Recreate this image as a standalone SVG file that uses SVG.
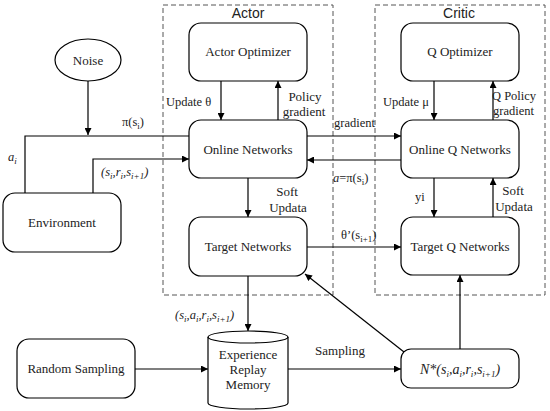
<svg xmlns="http://www.w3.org/2000/svg" width="550" height="411" viewBox="0 0 550 411">
<defs>
<marker id="ah" viewBox="0 0 10 10" refX="10" refY="5" markerWidth="9" markerHeight="7" markerUnits="userSpaceOnUse" orient="auto">
<path d="M0,0 L10,5 L0,10 z" fill="#000"/>
</marker>
<style>
.box{fill:#fff;stroke:#000;stroke-width:1.2}
.dash{fill:none;stroke:#555;stroke-width:1;stroke-dasharray:5,3}
.t{font-family:'Liberation Serif','DejaVu Serif',serif;font-size:13px;fill:#222;text-anchor:middle}
.l{font-family:'Liberation Serif','DejaVu Serif',serif;font-size:12.5px;fill:#222}
.i{font-style:italic}
.s{font-family:'Liberation Sans',Arial,sans-serif;font-size:14px;fill:#222;text-anchor:middle}
.c{fill:none;stroke:#000;stroke-width:1.2}
.sub{font-size:9px}
</style>
</defs>
<rect width="550" height="411" fill="#fff"/>
<g id="actor-group">
<rect class="dash" x="163" y="5" width="170" height="290"/>
<text class="s" x="248" y="18">Actor</text>
</g>
<g id="critic-group">
<rect class="dash" x="375" y="5" width="170" height="290"/>
<text class="s" x="459" y="18">Critic</text>
</g>
<g id="connectors">
<path class="c" d="M88,81 V135" marker-end="url(#ah)"/>
<path class="c" d="M189,136 H25 V193"/>
<path class="c" d="M93,193 V159 H189" marker-end="url(#ah)"/>
<path class="c" d="M221,81 V120" marker-end="url(#ah)"/>
<path class="c" d="M278,120 V81" marker-end="url(#ah)"/>
<path class="c" d="M307,136 H401" marker-end="url(#ah)"/>
<path class="c" d="M401,160 H307" marker-end="url(#ah)"/>
<path class="c" d="M248,178 V217" marker-end="url(#ah)"/>
<path class="c" d="M307,247 H401" marker-end="url(#ah)"/>
<path class="c" d="M434,81 V120" marker-end="url(#ah)"/>
<path class="c" d="M493,120 V81" marker-end="url(#ah)"/>
<path class="c" d="M434,178 V217" marker-end="url(#ah)"/>
<path class="c" d="M493,217 V178" marker-end="url(#ah)"/>
<path class="c" d="M248,276 V331" marker-end="url(#ah)"/>
<path class="c" d="M135,369 H208" marker-end="url(#ah)"/>
<path class="c" d="M288,369 H401" marker-end="url(#ah)"/>
<path class="c" d="M460,349 V275" marker-end="url(#ah)"/>
<path class="c" d="M404,352 L305,274" marker-end="url(#ah)"/>
<text class="l" x="122" y="126">π(s<tspan class="sub" dy="3">i</tspan><tspan dy="-3">)</tspan></text>
<text class="l i" x="8" y="161">a<tspan class="sub" dy="3">i</tspan></text>
<text class="l i" x="101" y="176">(s<tspan class="sub" dy="3">i</tspan><tspan dy="-3">,r</tspan><tspan class="sub" dy="3">i</tspan><tspan dy="-3">,s</tspan><tspan class="sub" dy="3">i+1</tspan><tspan dy="-3">)</tspan></text>
<text class="l" x="166" y="106">Update θ</text>
<text class="t" x="305" y="101">Policy</text>
<text class="t" x="304" y="116">gradient</text>
<text class="l" x="334" y="127">gradient</text>
<text class="l" x="333" y="182"><tspan class="i">a</tspan>=π(s<tspan class="sub" dy="3">i</tspan><tspan dy="-3">)</tspan></text>
<text class="t" x="287" y="196">Soft</text>
<text class="t" x="288" y="212">Updata</text>
<text class="l" x="341" y="239">θ’(s<tspan class="sub" dy="3">i+1</tspan><tspan dy="-3">)</tspan></text>
<text class="l" x="383" y="106">Update μ</text>
<text class="l" x="492" y="100">Q Policy</text>
<text class="l" x="493" y="115">gradient</text>
<text class="l" x="415" y="201">yi</text>
<text class="t" x="513" y="195">Soft</text>
<text class="t" x="514" y="211">Updata</text>
<text class="l i" x="175" y="319">(s<tspan class="sub" dy="3">i</tspan><tspan dy="-3">,a</tspan><tspan class="sub" dy="3">i</tspan><tspan dy="-3">,r</tspan><tspan class="sub" dy="3">i</tspan><tspan dy="-3">,s</tspan><tspan class="sub" dy="3">i+1</tspan><tspan dy="-3">)</tspan></text>
<text class="t" x="340" y="355">Sampling</text>
</g>
<g id="noise">
<ellipse class="box" cx="88" cy="60" rx="33" ry="21"/>
<text class="t" x="88" y="65">Noise</text>
</g>
<g id="environment">
<rect class="box" x="3" y="193" width="118" height="59" rx="12"/>
<text class="t" x="62" y="227">Environment</text>
</g>
<g id="actor-optimizer">
<rect class="box" x="189" y="23" width="118" height="58" rx="12"/>
<text class="t" x="248" y="56">Actor Optimizer</text>
</g>
<g id="online-networks">
<rect class="box" x="189" y="120" width="118" height="58" rx="12"/>
<text class="t" x="248" y="154">Online Networks</text>
</g>
<g id="target-networks">
<rect class="box" x="189" y="217" width="118" height="59" rx="12"/>
<text class="t" x="248" y="251">Target Networks</text>
</g>
<g id="q-optimizer">
<rect class="box" x="401" y="23" width="118" height="58" rx="12"/>
<text class="t" x="460" y="56">Q Optimizer</text>
</g>
<g id="online-q-networks">
<rect class="box" x="401" y="120" width="118" height="58" rx="12"/>
<text class="t" x="460" y="154">Online Q Networks</text>
</g>
<g id="target-q-networks">
<rect class="box" x="401" y="217" width="118" height="58" rx="12"/>
<text class="t" x="460" y="251">Target Q Networks</text>
</g>
<g id="random-sampling">
<rect class="box" x="17" y="339" width="118" height="59" rx="12"/>
<text class="t" x="76" y="373">Random Sampling</text>
</g>
<g id="replay-memory">
<path class="box" d="M208,337 V403 A40,6 0 0 0 288,403 V337 A40,6 0 0 0 208,337 Z"/>
<path class="c" d="M208,337 A40,6 0 0 0 288,337"/>
<text class="t" x="248" y="359">Experience</text>
<text class="t" x="248" y="374">Replay</text>
<text class="t" x="248" y="389">Memory</text>
</g>
<g id="n-star">
<rect class="box" x="401" y="349" width="118" height="39" rx="10"/>
<text class="t i" x="460" y="374" style="font-size:14px">N*(s<tspan class="sub" dy="3">i</tspan><tspan dy="-3">,a</tspan><tspan class="sub" dy="3">i</tspan><tspan dy="-3">,r</tspan><tspan class="sub" dy="3">i</tspan><tspan dy="-3">,s</tspan><tspan class="sub" dy="3">i+1</tspan><tspan dy="-3">)</tspan></text>
</g>
</svg>
